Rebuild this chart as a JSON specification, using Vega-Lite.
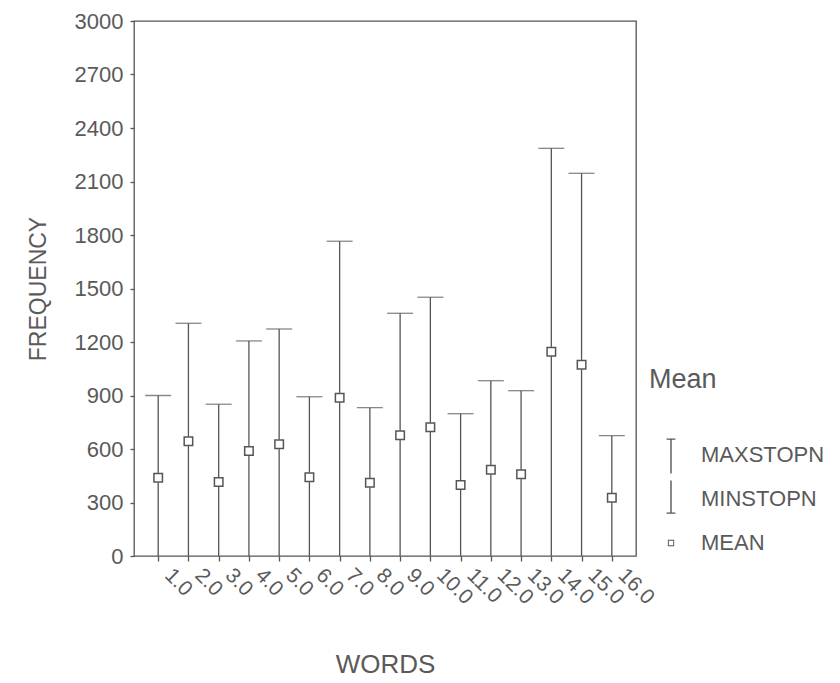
{
  "$schema": "https://vega.github.io/schema/vega-lite/v6.json",
  "width": 502,
  "height": 535,
  "autosize": {"type": "none"},
  "padding": {"left": 134, "top": 21, "right": 204, "bottom": 127},
  "background": "white",
  "config": {
    "font": "Liberation Sans",
    "view": {"stroke": "#555555", "strokeWidth": 1.3},
    "axis": {
      "grid": false,
      "domain": false,
      "tickColor": "#555555",
      "tickWidth": 1.3,
      "labelColor": "#5a5a5a",
      "titleColor": "#5a5a5a",
      "titleFontWeight": "normal",
      "labelFont": "Liberation Sans",
      "titleFont": "Liberation Sans"
    },
    "legend": {
      "titleFont": "Liberation Sans",
      "labelFont": "Liberation Sans"
    }
  },
  "data": {
    "values": [
      {"word": 1, "mean": 439, "minstopn": 0, "maxstopn": 900},
      {"word": 2, "mean": 643, "minstopn": 0, "maxstopn": 1305},
      {"word": 3, "mean": 415, "minstopn": 0, "maxstopn": 851},
      {"word": 4, "mean": 589, "minstopn": 0, "maxstopn": 1206},
      {"word": 5, "mean": 626, "minstopn": 0, "maxstopn": 1273},
      {"word": 6, "mean": 441, "minstopn": 0, "maxstopn": 893},
      {"word": 7, "mean": 888, "minstopn": 0, "maxstopn": 1765},
      {"word": 8, "mean": 411, "minstopn": 0, "maxstopn": 832},
      {"word": 9, "mean": 677, "minstopn": 0, "maxstopn": 1361},
      {"word": 10, "mean": 722, "minstopn": 0, "maxstopn": 1451},
      {"word": 11, "mean": 398, "minstopn": 0, "maxstopn": 798},
      {"word": 12, "mean": 484, "minstopn": 0, "maxstopn": 983},
      {"word": 13, "mean": 458, "minstopn": 0, "maxstopn": 927},
      {"word": 14, "mean": 1146, "minstopn": 0, "maxstopn": 2286},
      {"word": 15, "mean": 1073, "minstopn": 0, "maxstopn": 2146},
      {"word": 16, "mean": 327, "minstopn": 0, "maxstopn": 675}
    ]
  },
  "encoding": {
    "x": {
      "field": "word",
      "type": "quantitative",
      "title": "WORDS",
      "scale": {"domain": [0.2, 16.8], "nice": false, "zero": false},
      "axis": {
        "values": [1, 2, 3, 4, 5, 6, 7, 8, 9, 10, 11, 12, 13, 14, 15, 16],
        "format": ".1f",
        "labelAngle": 45,
        "labelFontSize": 21,
        "labelOffset": 17,
        "labelPadding": 3,
        "tickSize": 5,
        "titleFontSize": 26,
        "titlePadding": 44,
        "labelOverlap": false
      }
    }
  },
  "layer": [
    {
      "mark": {"type": "rule", "stroke": "#555555", "strokeWidth": 1.3},
      "encoding": {
        "y": {
          "field": "minstopn",
          "type": "quantitative",
          "title": "FREQUENCY",
          "scale": {"domain": [0, 3000], "nice": false},
          "axis": {
            "values": [0, 300, 600, 900, 1200, 1500, 1800, 2100, 2400, 2700, 3000],
            "format": "d",
            "labelFontSize": 22,
            "tickSize": 4,
            "labelPadding": 7,
            "titleFontSize": 23,
            "titlePadding": 24
          }
        },
        "y2": {"field": "maxstopn"}
      }
    },
    {
      "mark": {"type": "tick", "orient": "horizontal", "size": 26, "thickness": 1.3, "color": "#555555"},
      "encoding": {
        "y": {"field": "maxstopn", "type": "quantitative"}
      }
    },
    {
      "mark": {"type": "point", "shape": "square", "filled": true, "fill": "white", "strokeWidth": 0, "opacity": 1, "size": 90},
      "encoding": {
        "y": {"field": "mean", "type": "quantitative"}
      }
    },
    {
      "mark": {"type": "point", "filled": true, "fill": "#555555", "strokeWidth": 0, "opacity": 1, "size": 4444},
      "encoding": {
        "y": {"field": "mean", "type": "quantitative"},
        "shape": {
          "datum": "MEAN",
          "type": "nominal",
          "scale": {
            "domain": ["MAXSTOPN", "MINSTOPN", "MEAN"],
            "range": [
              "M-0.21,-0.79H0.21V-0.73H0.033V0.88H-0.033V-0.73H-0.21Z",
              "M-0.033,-0.88H0.033V0.64H0.21V0.7H-0.21V0.64H-0.033Z",
              "M0,-1.06L0,-1.06M-0.15,-0.15H0.15V0.15H-0.15ZM-0.105,-0.105V0.105H0.105V-0.105Z"
            ]
          },
          "legend": {
            "title": "Mean",
            "orient": "none",
            "legendX": 515,
            "legendY": 346,
            "symbolSize": 1764,
            "labelFontSize": 22,
            "labelColor": "#5a5a5a",
            "labelOffset": 8,
            "titleFontSize": 27,
            "titleColor": "#5a5a5a",
            "titleFontWeight": "normal",
            "titlePadding": 39,
            "rowPadding": 0,
            "encode": {
              "symbols": {
                "update": {
                  "fill": {"value": "#555555"},
                  "fillOpacity": {"value": 1},
                  "strokeWidth": {"value": 0},
                  "opacity": {"value": 1}
                }
              }
            }
          }
        }
      }
    }
  ]
}
